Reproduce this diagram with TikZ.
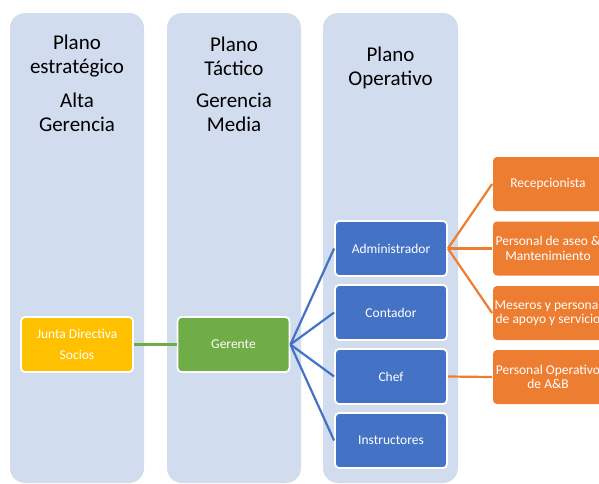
\documentclass[tikz,border=0pt]{standalone}
\usepackage{fontspec}
\setmainfont{Carlito}
\definecolor{lane}{HTML}{D1DCEE}
\definecolor{gold}{HTML}{FFC000}
\definecolor{leaf}{HTML}{70AD47}
\definecolor{steel}{HTML}{4472C4}
\definecolor{tangerine}{HTML}{ED7D31}
\begin{document}
\begin{tikzpicture}[x=1pt,y=-1pt,
  lanebox/.style={fill=lane, rounded corners=15pt},
  head/.style={align=center, font=\fontsize{21}{24}\selectfont, text=black},
  card/.style={draw=white, line width=1.8pt, rounded corners=4pt, minimum width=112pt, minimum height=55pt,
               align=center, text=white, font=\fontsize{13.5}{21}\selectfont, inner sep=0pt},
  orangecard/.style={card, fill=tangerine, draw=none, minimum width=110pt, minimum height=54pt,
               font=\fontsize{13.5}{14.5}\selectfont},
  blueline/.style={draw=steel, line width=2.2pt},
  orangeline/.style={draw=tangerine, line width=2.2pt},
  greenline/.style={draw=leaf, line width=2.2pt}]
\useasboundingbox (0,0) rectangle (599,483);
\clip (0,0) rectangle (599,483);

% swim lanes
\fill[lanebox] (10,13) rectangle (144,483);
\fill[lanebox] (167,13) rectangle (301,483);
\fill[lanebox] (323,13) rectangle (458,483);

% lane headings
\node[head] (h1a) at (77,56) {Plano\\estratégico};
\node[head] (h1b) at (77,112) {Alta\\Gerencia};
\node[head] (h2a) at (234,56) {Plano\\Táctico};
\node[head] (h2b) at (234,112) {Gerencia\\Media};
\node[head] (h3a) at (390.5,68) {Plano\\Operativo};

% top and middle management
\node[card, fill=gold] (junta) at (77,344.5) {Junta Directiva\\Socios};
\node[card, fill=leaf] (gerente) at (233.5,344.5) {Gerente};

% operational staff
\node[card, fill=steel] (admin) at (391,248.5) {Administrador};
\node[card, fill=steel] (contador) at (391,312.5) {Contador};
\node[card, fill=steel] (chef) at (391,376.5) {Chef};
\node[card, fill=steel] (instr) at (391,440.5) {Instructores};

\node[orangecard] (recep) at (548,184) {Recepcionista};
\node[orangecard] (aseo) at (548,248.5) {Personal de aseo \&\\Mantenimiento};
\node[orangecard] (meseros) at (548,313) {Meseros y personal\\de apoyo y servicio};
\node[orangecard] (ayb) at (548,377) {Personal Operativo\\de A\&B};

% connectors
\draw[greenline] (junta.east) -- (gerente.west);
\foreach \t in {admin,contador,chef,instr}
  \draw[blueline] (gerente.east) -- (\t.west);
\foreach \t in {recep,aseo,meseros}
  \draw[orangeline] (admin.east) -- (\t.west);
\draw[orangeline] (chef.east) -- (ayb.west);
\end{tikzpicture}
\end{document}
